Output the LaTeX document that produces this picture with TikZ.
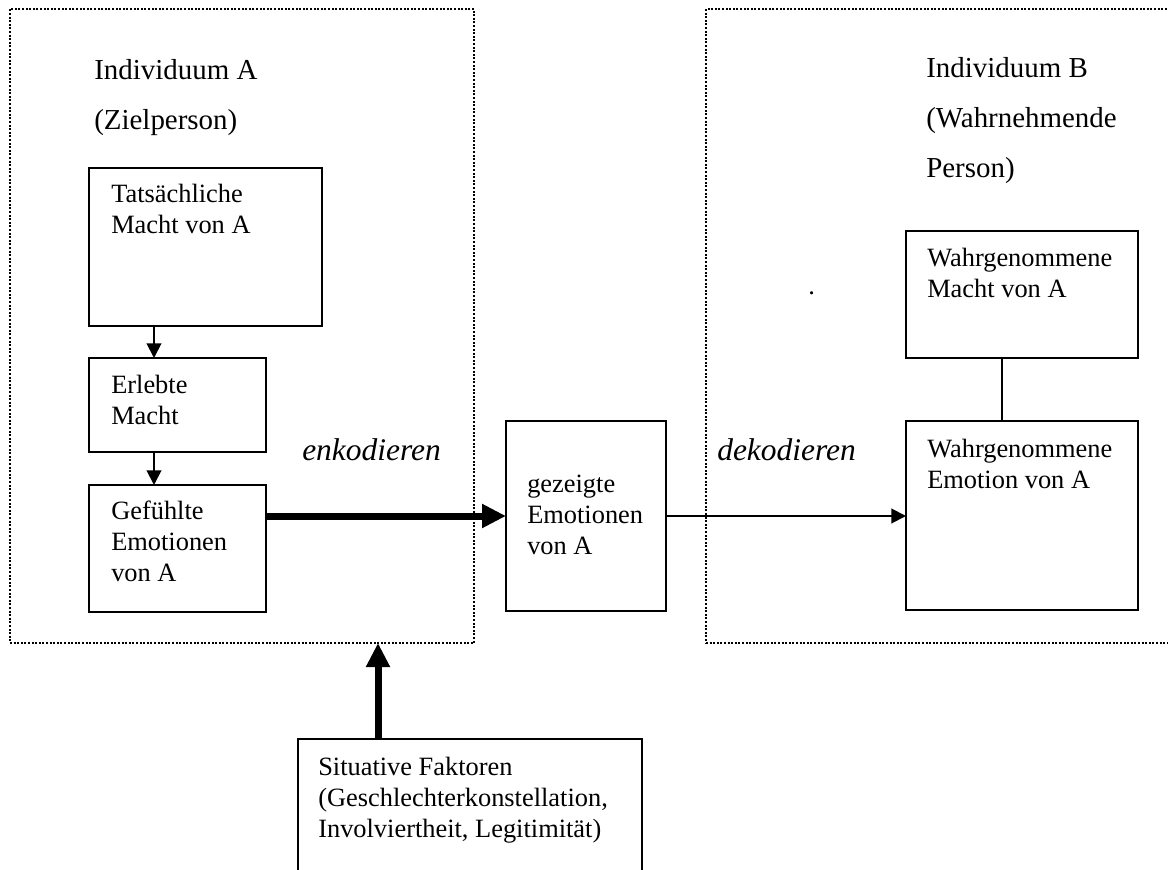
\documentclass[tikz,border=0pt]{standalone}
\usepackage{fontspec}
\setmainfont{Liberation Serif}
\usetikzlibrary{arrows.meta,fit,calc}
% stacked left-aligned lines whose baseline is the first line
\newcommand\stk[1]{\vtop{\halign{##\hfil\cr#1\crcr}}}
\newcommand\boxfont{\fontsize{19.8pt}{23.25pt}\selectfont}
\newcommand\headfont{\fontsize{21.7pt}{37pt}\selectfont}
\newcommand\labfont{\fontsize{23.6pt}{28pt}\selectfont\itshape}

\begin{document}
\begin{tikzpicture}[x=0.75pt,y=-0.75pt,
  frame/.style={draw, line width=1.5pt, dash pattern=on 1.5pt off 1.2pt, inner sep=0pt, outer sep=0pt},
  boxst/.style={draw, line width=1.4pt, inner sep=0pt, outer sep=0pt},
  txt/.style={anchor=base west, inner sep=0pt, font=\boxfont},
  head/.style={anchor=base west, inner sep=0pt, font=\headfont},
  lab/.style={anchor=base west, inner sep=0pt, font=\labfont},
  thinarrow/.style={line width=1.5pt, -{Triangle[length=11pt,width=11pt]}},
  thickarrow/.style={line width=5.25pt, -{Triangle[length=18pt,width=17pt]}},
  link/.style={line width=1.5pt}]

\useasboundingbox (0,0) rectangle (1168,870);
\clip (0,0) rectangle (1168,870);

% dotted frames of the two persons
\node[frame, fit={(10,9) (474,643)}] (frameA) {};
\node[frame, fit={(706,9) (1190,643)}] (frameB) {};

% headings
\node[head] (headA) at (94,80) {\stk{Individuum A\cr(Zielperson)}};
\node[head] (headB) at (926,78) {\baselineskip=37.5pt\stk{Individuum B\cr(Wahrnehmende\cr Person)}};

% boxes of person A
\node[boxst, fit={(89,168) (322,326)}] (tat) {};
\node[txt] (tatT) at (111,203) {\stk{Tatsächliche\cr Macht von A}};
\node[boxst, fit={(89,358) (266,452)}] (erl) {};
\node[txt] (erlT) at (111,393) {\stk{Erlebte\cr Macht}};
\node[boxst, fit={(89,485) (266,612)}] (gef) {};
\node[txt] (gefT) at (111,519) {\stk{Gefühlte\cr Emotionen\cr von A}};

% shown emotions
\node[boxst, fit={(506,421) (666,611)}] (gez) {};
\node[txt] (gezT) at (527,492) {\stk{gezeigte\cr Emotionen\cr von A}};

% boxes of person B
\node[boxst, fit={(906,231) (1138,358)}] (wm) {};
\node[txt] (wmT) at (927,267) {\stk{Wahrgenommene\cr Macht von A}};
\node[boxst, fit={(906,421) (1138,610)}] (we) {};
\node[txt] (weT) at (927,457) {\stk{Wahrgenommene\cr Emotion von A}};
\node[txt] (dot) at (808,295) {.};

% situational factors
\node[boxst, fit={(298,739) (642,900)}] (sit) {};
\node[txt] (sitT) at (318,775) {\stk{Situative Faktoren\cr(Geschlechterkonstellation,\cr Involviertheit, Legitimität)}};

% process labels
\node[lab] (enk) at (302,460) {enkodieren};
\node[lab] (dek) at (717,460) {dekodieren};

% connectors
\coordinate (colA) at (154,0);
\coordinate (colB) at (1002,0);
\coordinate (colS) at (378,0);
\draw[thinarrow] (tat.south -| colA) -- (erl.north -| colA);
\draw[thinarrow] (erl.south -| colA) -- (gef.north -| colA);
\draw[thickarrow] (gef.east |- gez.west) -- (gez.west);
\draw[thinarrow] (gez.east) -- (we.west |- gez.east);
\draw[link] (wm.south -| colB) -- (we.north -| colB);
\draw[thickarrow] (sit.north -| colS) -- (frameA.south -| colS);
\end{tikzpicture}
\end{document}
